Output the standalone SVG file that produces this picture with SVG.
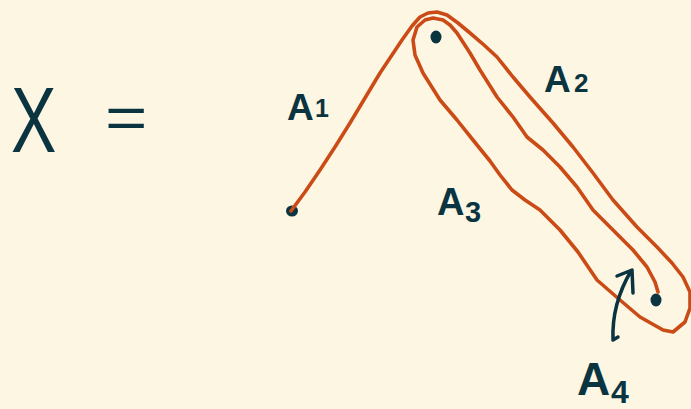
<svg xmlns="http://www.w3.org/2000/svg" width="691" height="409" viewBox="0 0 691 409">
<style>
.ink{fill:#0a3440;font-family:"Liberation Sans",Arial,sans-serif;}
.lbl{font-weight:bold;}
.stroke-ink{fill:none;stroke:#0a3440;stroke-width:3.5;stroke-linecap:round;stroke-linejoin:round;}
.orange{fill:none;stroke:#cb4b16;stroke-width:3.6;stroke-linecap:round;stroke-linejoin:round;}
.dot{fill:#0a3440;}
</style>
<rect width="691" height="409" fill="#fdf6e3"/>
<g id="equation">
<text class="ink" transform="translate(11,152) scale(0.74,1)" font-size="92">X</text>
<text class="ink" transform="translate(105,138) scale(1.1,0.9)" font-size="66">=</text>
</g>
<g id="points">
<ellipse class="dot" cx="292" cy="211" rx="6" ry="5.5"/>
<ellipse class="dot" cx="436" cy="37" rx="5.5" ry="6.5"/>
<ellipse class="dot" cx="656" cy="300" rx="5.5" ry="6.5"/>
</g>
<g id="connectors">
<path id="curve" class="orange" d="M291,211 L305,192 L320,170 L335,147 L350,123 L365,98 L380,73 L392,55 L402,40 L412,26 L420,17 L428,13 L437,12 L447,15 L458,23 L470,33 L484,45 L497,57 L513,77 L530,97 L553,123 L573,147 L593,173 L613,200 L637,227 L657,247 L672,263 L683,277 L690,292 L690,308 L685,322 L673,332 L663,330 L640,317 L620,300 L597,280 L578,252 L560,230 L540,210 L525,200 L512,190 L500,175 L490,161 L473,140 L457,120 L440,100 L423,73 L415,55 L413,40 L417,27 L425,20 L433,18 L443,20 L450,25 L457,33 L470,53 L480,70 L497,97 L513,117 L527,137 L543,150 L560,167 L577,187 L593,210 L613,230 L633,250 L647,267 L655,282 L658,292"/>
<path id="arrow" class="stroke-ink" d="M618,337 L613,340 C612,315 618,293 631,271 M617,276 L632,270 L633,293"/>
</g>
<g id="labels">
<text class="ink lbl" x="287" y="120" font-size="37">A</text><text class="ink lbl" x="315" y="117" font-size="25">1</text>
<text class="ink lbl" x="544" y="92" font-size="37">A</text><text class="ink lbl" x="574" y="92" font-size="26">2</text>
<text class="ink lbl" x="437" y="215" font-size="38">A</text><text class="ink lbl" x="465" y="222" font-size="29">3</text>
<text class="ink lbl" x="577" y="395" font-size="46">A</text><text class="ink lbl" x="611" y="403" font-size="32">4</text>
</g>
</svg>
